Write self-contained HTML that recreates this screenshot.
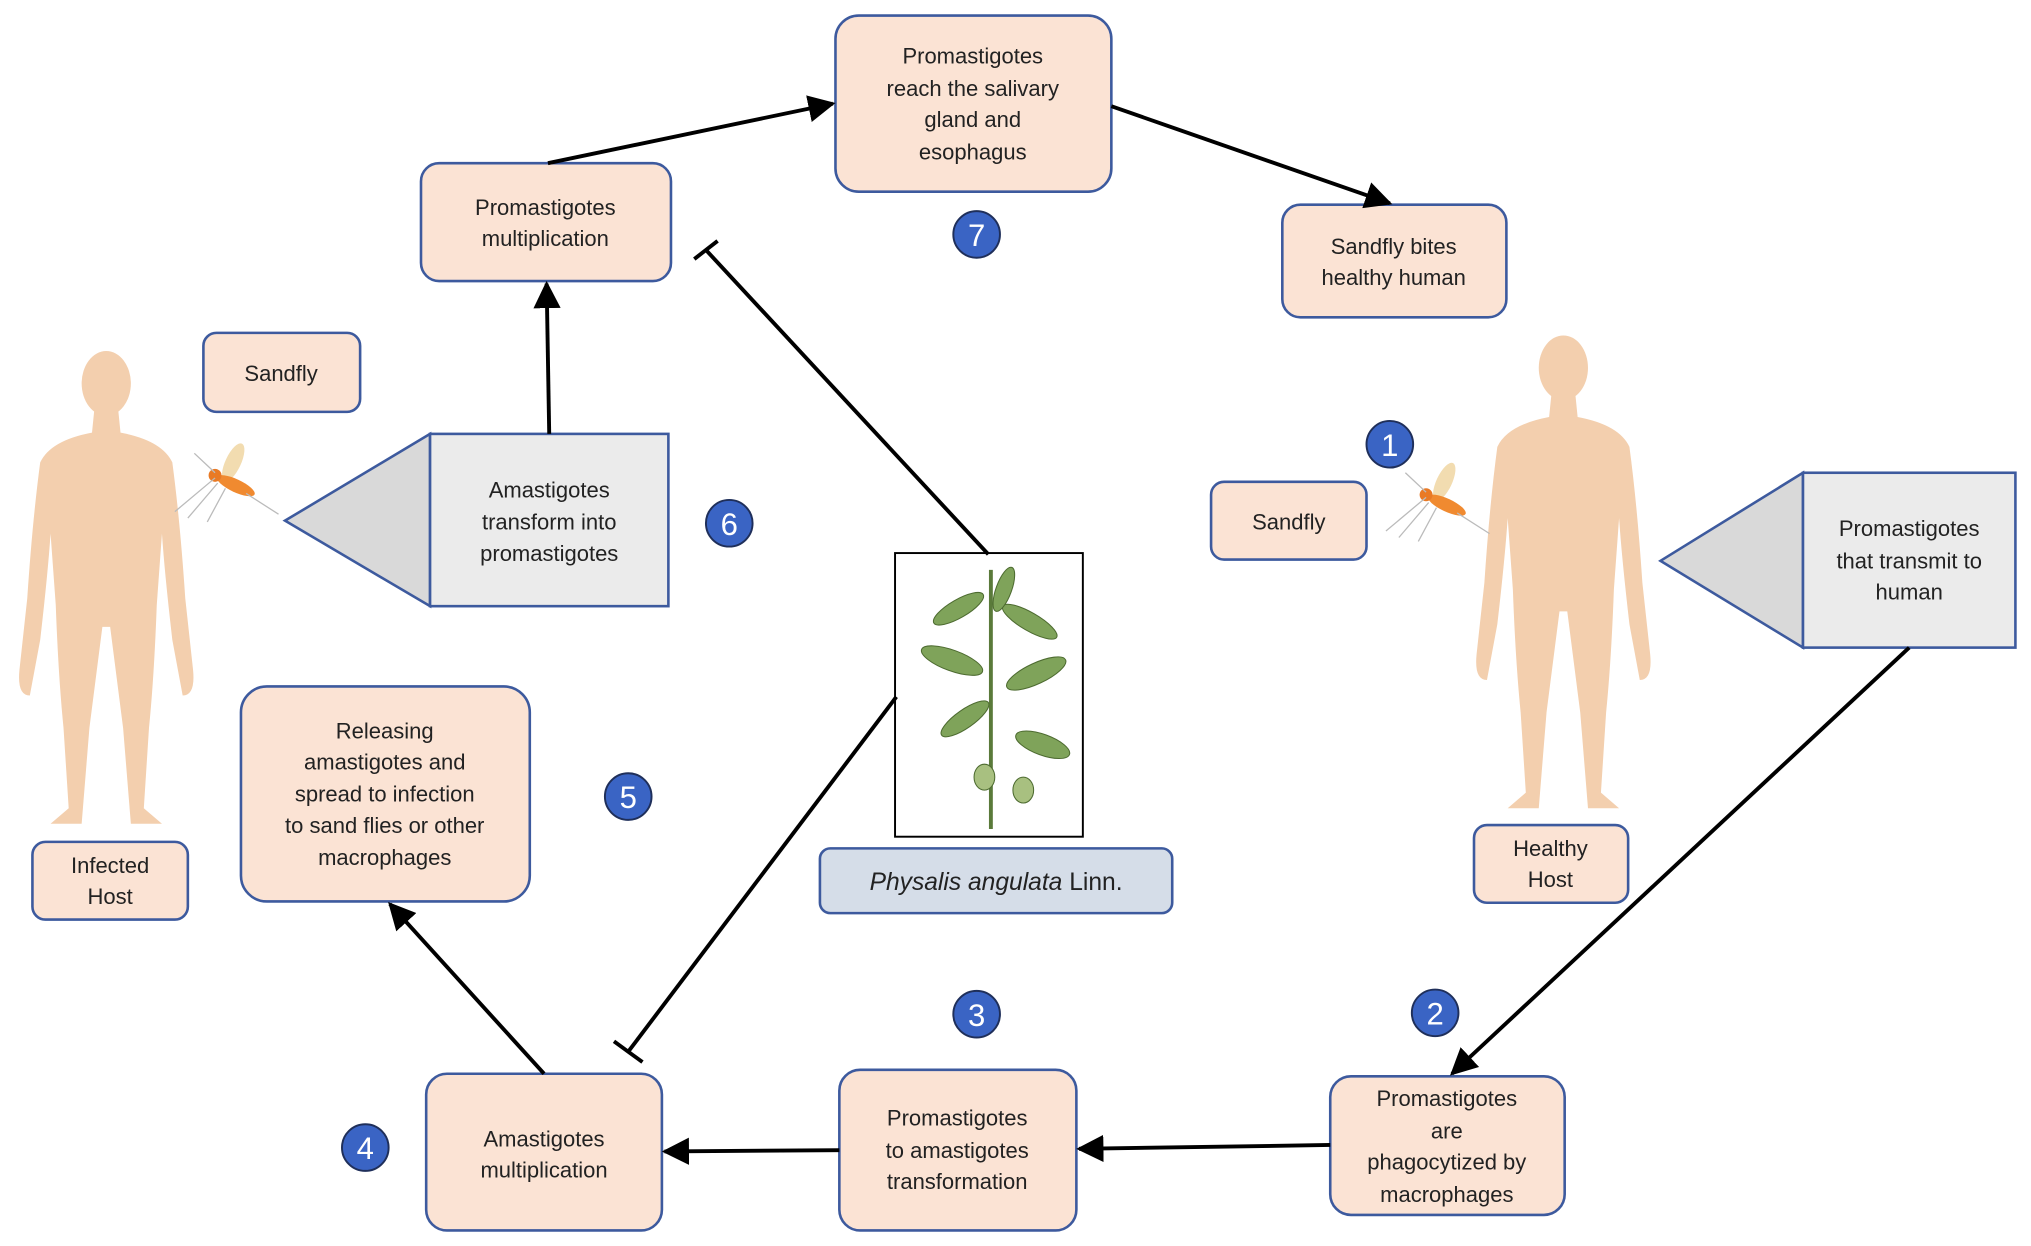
<!DOCTYPE html>
<html><head><meta charset="utf-8"><style>
html,body{margin:0;padding:0;background:#fff;}
svg{display:block;}
text{font-family:"Liberation Sans",sans-serif;font-size:17px;fill:#222;}
.n{fill:#fff;font-size:24px;text-anchor:middle;}
</style></head><body>
<svg width="2031" height="1246" viewBox="0 0 1568 962" xmlns="http://www.w3.org/2000/svg">
<defs>
<marker id="ar" viewBox="0 0 10 10" refX="9" refY="5" markerWidth="7" markerHeight="7" orient="auto-start-reverse"><path d="M0,0 L10,5 L0,10 Z" fill="#000"/></marker>
<g id="man"><ellipse cx="67" cy="34" rx="19" ry="25" fill="#f3cfae"/>
<path d="M58,52 L76,52 L78,72 Q110,78 118,95 Q124,140 128,200 L134,255 Q136,275 126,275 L118,232 Q112,180 110,150 L106,205 Q104,260 100,300 L96,362 L110,374 L86,374 L80,300 L70,222 L64,222 L54,300 L48,374 L24,374 L38,362 L34,300 Q30,260 28,205 L24,150 Q22,180 16,232 L8,275 Q-2,275 0,255 L6,200 Q10,140 16,95 Q24,78 56,72 Z" fill="#f3cfae"/></g>
<g id="fly"><ellipse cx="20" cy="12" rx="6" ry="16" fill="#f2dcb0" transform="rotate(25 20 12)"/><ellipse cx="22" cy="30" rx="16" ry="5" fill="#f08a30" transform="rotate(25 22 30)"/><circle cx="6" cy="22" r="5" fill="#e97a25"/><path d="M6,24 L-25,50 M8,28 L-15,55 M14,32 L0,58 M30,36 L55,52 M6,20 L-10,5" stroke="#bbb" stroke-width="1" fill="none"/></g>
</defs>
<g stroke="#3d5a9e" stroke-width="2" fill="#fbe3d4">
<rect x="645" y="12" width="213" height="136" rx="18"/>
<rect x="325" y="126" width="193" height="91" rx="14"/>
<rect x="990" y="158" width="173" height="87" rx="14"/>
<rect x="157" y="257" width="121" height="61" rx="10"/>
<rect x="935" y="372" width="120" height="60" rx="10"/>
<rect x="186" y="530" width="223" height="166" rx="20"/>
<rect x="25" y="650" width="120" height="60" rx="10"/>
<rect x="1138" y="637" width="119" height="60" rx="10"/>
<rect x="329" y="829" width="182" height="121" rx="16"/>
<rect x="648" y="826" width="183" height="124" rx="16"/>
<rect x="1027" y="831" width="181" height="107" rx="16"/>
</g>
<g stroke="#3d5a9e" stroke-width="2" fill="#ebebeb">
<path d="M332,335 L220,402 L332,468 Z" fill="#d9d9d9"/>
<rect x="332" y="335" width="184" height="133"/>
<path d="M1392,365 L1282,433 L1392,500 Z" fill="#d9d9d9"/>
<rect x="1392" y="365" width="164" height="135"/>
<rect x="633" y="655" width="272" height="50" rx="8" fill="#d5dde8"/>
</g>
<use href="#man" x="15" y="262"/>
<use href="#man" x="1140" y="250"/>
<use href="#fly" x="160" y="345"/>
<use href="#fly" x="1095" y="360"/>
<rect x="691" y="427" width="145" height="219" fill="#fff" stroke="#000" stroke-width="1.5"/>
<g fill="#7fa35a" stroke="#4d6b30" stroke-width="0.8">
<path d="M765,440 L765,640" stroke="#5a7a3a" stroke-width="3" fill="none"/>
<ellipse cx="740" cy="470" rx="22" ry="7" transform="rotate(-30 740 470)"/>
<ellipse cx="795" cy="480" rx="24" ry="7" transform="rotate(30 795 480)"/>
<ellipse cx="735" cy="510" rx="25" ry="8" transform="rotate(20 735 510)"/>
<ellipse cx="800" cy="520" rx="25" ry="8" transform="rotate(-25 800 520)"/>
<ellipse cx="745" cy="555" rx="22" ry="7" transform="rotate(-35 745 555)"/>
<ellipse cx="805" cy="575" rx="22" ry="8" transform="rotate(20 805 575)"/>
<ellipse cx="775" cy="455" rx="18" ry="6" transform="rotate(-70 775 455)"/>
<ellipse cx="760" cy="600" rx="8" ry="10" fill="#a8c080"/>
<ellipse cx="790" cy="610" rx="8" ry="10" fill="#a8c080"/>
</g>
<g stroke="#000" stroke-width="3" fill="none">
<line x1="423" y1="126" x2="643" y2="80" marker-end="url(#ar)"/>
<line x1="858" y1="82" x2="1073" y2="157" marker-end="url(#ar)"/>
<line x1="424" y1="335" x2="422" y2="219" marker-end="url(#ar)"/>
<line x1="1474" y1="500" x2="1121" y2="829" marker-end="url(#ar)"/>
<line x1="1027" y1="884" x2="833" y2="887" marker-end="url(#ar)"/>
<line x1="648" y1="888" x2="513" y2="889" marker-end="url(#ar)"/>
<line x1="420" y1="829" x2="301" y2="698" marker-end="url(#ar)"/>
<line x1="763" y1="428" x2="545" y2="193"/>
<line x1="536" y1="200" x2="554" y2="186"/>
<line x1="692" y1="538" x2="485" y2="812"/>
<line x1="474" y1="804" x2="496" y2="820"/>
</g>
<g text-anchor="middle">
<text x="751" y="49">Promastigotes</text><text x="751" y="74">reach the salivary</text><text x="751" y="98">gland and</text><text x="751" y="123">esophagus</text>
<text x="421" y="166">Promastigotes</text><text x="421" y="190">multiplication</text>
<text x="1076" y="196">Sandfly bites</text><text x="1076" y="220">healthy human</text>
<text x="217" y="294">Sandfly</text>
<text x="995" y="409">Sandfly</text>
<text x="424" y="384">Amastigotes</text><text x="424" y="409">transform into</text><text x="424" y="433">promastigotes</text>
<text x="1474" y="414">Promastigotes</text><text x="1474" y="439">that transmit to</text><text x="1474" y="463">human</text>
<text x="297" y="570">Releasing</text><text x="297" y="594">amastigotes and</text><text x="297" y="619">spread to infection</text><text x="297" y="643">to sand flies or other</text><text x="297" y="668">macrophages</text>
<text x="85" y="674">Infected</text><text x="85" y="698">Host</text>
<text x="1197" y="661">Healthy</text><text x="1197" y="685">Host</text>
<text x="769" y="687" style="font-size:19px"><tspan font-style="italic">Physalis angulata</tspan> Linn.</text>
<text x="420" y="885">Amastigotes</text><text x="420" y="909">multiplication</text>
<text x="739" y="869">Promastigotes</text><text x="739" y="894">to amastigotes</text><text x="739" y="918">transformation</text>
<text x="1117" y="854">Promastigotes</text><text x="1117" y="879">are</text><text x="1117" y="903">phagocytized by</text><text x="1117" y="928">macrophages</text>
</g>
<g fill="#3a64c4" stroke="#1f2f5a" stroke-width="1.5">
<circle cx="754" cy="181" r="18"/><circle cx="1073" cy="343" r="18"/><circle cx="563" cy="404" r="18"/><circle cx="485" cy="615" r="18"/><circle cx="754" cy="783" r="18"/><circle cx="1108" cy="782" r="18"/><circle cx="282" cy="886" r="18"/>
</g>
<text class="n" x="754" y="190">7</text><text class="n" x="1073" y="352">1</text><text class="n" x="563" y="413">6</text><text class="n" x="485" y="624">5</text><text class="n" x="754" y="792">3</text><text class="n" x="1108" y="791">2</text><text class="n" x="282" y="895">4</text>
</svg>
</body></html>
